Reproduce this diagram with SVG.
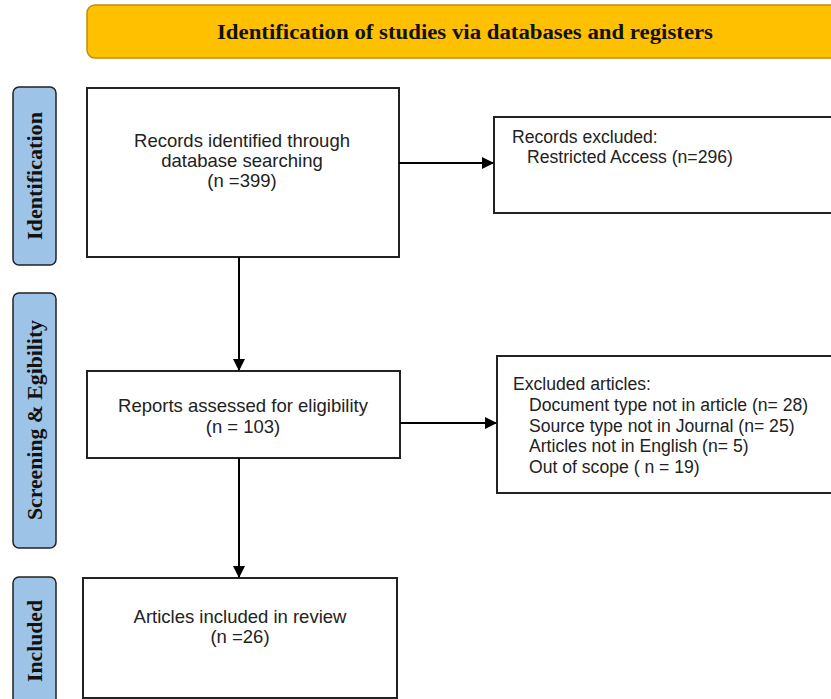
<svg xmlns="http://www.w3.org/2000/svg" width="831" height="699" viewBox="0 0 831 699">
<style>
.box{fill:#fff;stroke:#222;stroke-width:2}
.phase{fill:#9DC3E6;stroke:#222;stroke-width:1.5}
.ph{font-family:"Liberation Serif",serif;font-weight:bold;font-size:20px;fill:#111;text-anchor:middle}
.t{font-family:"Liberation Sans",Arial,sans-serif;font-size:18.5px;fill:#222;text-anchor:middle}
.e{font-family:"Liberation Sans",Arial,sans-serif;font-size:17.6px;fill:#222}
.c{stroke:#000;stroke-width:2;fill:none}
</style>
<defs>
<marker id="ah" markerWidth="12" markerHeight="12" refX="11" refY="6" orient="auto" markerUnits="userSpaceOnUse">
<path d="M0,0 L12,6 L0,12 Z" fill="#000"/>
</marker>
</defs>
<g id="header">
<rect x="87" y="5" width="760" height="53" rx="8" fill="#FFC000" stroke="#BF9000" stroke-width="1.5"/>
<text x="465" y="39" font-family="'Liberation Serif',serif" font-weight="bold" font-size="20px" fill="#111" text-anchor="middle" textLength="496" lengthAdjust="spacingAndGlyphs">Identification of studies via databases and registers</text>
</g>
<g id="phase-identification">
<rect class="phase" x="13" y="87" width="43" height="178" rx="6"/>
<text class="ph" transform="translate(42,176) rotate(-90)" textLength="128" lengthAdjust="spacingAndGlyphs">Identification</text>
</g>
<g id="phase-screening">
<rect class="phase" x="13" y="293" width="43" height="255" rx="6"/>
<text class="ph" transform="translate(42,420) rotate(-90)" textLength="200" lengthAdjust="spacingAndGlyphs">Screening &amp; Egibility</text>
</g>
<g id="phase-included">
<rect class="phase" x="13" y="577" width="43" height="140" rx="6"/>
<text class="ph" transform="translate(42,641) rotate(-90)" textLength="82" lengthAdjust="spacingAndGlyphs">Included</text>
</g>
<g id="records-identified">
<rect class="box" x="87" y="88" width="312" height="169"/>
<text class="t" x="242" y="147">Records identified through</text>
<text class="t" x="242" y="167">database searching</text>
<text class="t" x="242" y="187">(n =399)</text>
</g>
<g id="records-excluded">
<rect class="box" x="494" y="117" width="350" height="96"/>
<text class="e" x="512" y="143">Records excluded:</text>
<text class="e" x="527" y="163">Restricted Access (n=296)</text>
</g>
<g id="reports-assessed">
<rect class="box" x="87" y="371" width="313" height="87"/>
<text class="t" x="243" y="412">Reports assessed for eligibility</text>
<text class="t" x="243" y="433">(n = 103)</text>
</g>
<g id="excluded-articles">
<rect class="box" x="497" y="356" width="350" height="137"/>
<text class="e" x="513" y="390">Excluded articles:</text>
<text class="e" x="529" y="411">Document type not in article (n= 28)</text>
<text class="e" x="529" y="432">Source type not in Journal (n= 25)</text>
<text class="e" x="529" y="452">Articles not in English (n= 5)</text>
<text class="e" x="529" y="473">Out of scope ( n = 19)</text>
</g>
<g id="articles-included">
<rect class="box" x="83" y="578" width="314" height="120"/>
<text class="t" x="240" y="623">Articles included in review</text>
<text class="t" x="240" y="643">(n =26)</text>
</g>
<g id="connectors">
<line class="c" x1="399" y1="163" x2="493" y2="163" marker-end="url(#ah)"/>
<line class="c" x1="239" y1="257" x2="239" y2="370" marker-end="url(#ah)"/>
<line class="c" x1="400" y1="423" x2="496" y2="423" marker-end="url(#ah)"/>
<line class="c" x1="239" y1="458" x2="239" y2="577" marker-end="url(#ah)"/>
</g>
</svg>
